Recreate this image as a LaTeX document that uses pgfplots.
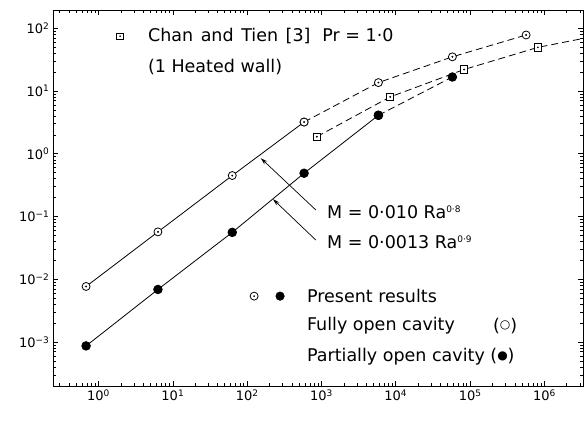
\documentclass[border=0pt]{standalone}
\usepackage{pgfplots}
\pgfplotsset{compat=1.18}
\usepackage{fontspec}
\setmainfont{DejaVu Sans}
\usetikzlibrary{arrows.meta}

\newcommand{\annot}{\fontsize{17.5}{20}\selectfont}
\newcommand{\sups}[1]{\textsuperscript{\fontsize{9}{10}\selectfont #1}}
\newcommand{\sym}[1]{\raisebox{2.5pt}{\fontsize{12}{14}\selectfont #1}}

\begin{document}
\begin{tikzpicture}
\begin{axis}[
  scale only axis,
  width=530pt, height=376pt,
  xmode=log, ymode=log,
  xmin=0.244, xmax=3.3e6,
  ymin=2e-4, ymax=195,
  xtick={1,10,100,1000,10000,100000,1000000},
  xticklabels={10\sups{0},10\sups{1},10\sups{2},10\sups{3},10\sups{4},10\sups{5},10\sups{6}},
  minor xtick={0.3,0.4,0.5,0.6,0.7,0.8,0.9,
    2,3,4,5,6,7,8,9,20,30,40,50,60,70,80,90,
    200,300,400,500,600,700,800,900,2000,3000,4000,5000,6000,7000,8000,9000,
    20000,30000,40000,50000,60000,70000,80000,90000,
    200000,300000,400000,500000,600000,700000,800000,900000,2000000,3000000},
  ytick={0.001,0.01,0.1,1,10,100},
  yticklabels={10\sups{−3},10\sups{−2},10\sups{−1},10\sups{0},10\sups{1},10\sups{2}},
  minor ytick={0.0003,0.0004,0.0005,0.0006,0.0007,0.0008,0.0009,
    0.002,0.003,0.004,0.005,0.006,0.007,0.008,0.009,
    0.02,0.03,0.04,0.05,0.06,0.07,0.08,0.09,
    0.2,0.3,0.4,0.5,0.6,0.7,0.8,0.9,
    2,3,4,5,6,7,8,9,20,30,40,50,60,70,80,90},
  tick label style={font=\fontsize{13}{15}\selectfont},
  axis line style={line width=0.9pt},
  every tick/.style={black, line width=0.7pt},
  major tick length=5pt, minor tick length=3pt,
  clip=true,
]
% fully open cavity (open circles)
\addplot[black, line width=0.8pt, mark=*, mark size=4pt, mark options={fill=white, solid}]
  coordinates {(0.68,0.0077) (6.3,0.057) (63,0.45) (583,3.2)};
\addplot[black, line width=0.8pt, dash pattern=on 7pt off 4pt, mark=*, mark size=4pt, mark options={fill=white, solid}]
  coordinates {(583,3.2) (5830,13.6) (57700,35) (566000,78)};
\addplot[only marks, black, mark=*, mark size=0.7pt]
  coordinates {(0.68,0.0077) (6.3,0.057) (63,0.45) (583,3.2) (5830,13.6) (57700,35) (566000,78)};

% partially open cavity (filled circles)
\addplot[black, line width=0.8pt, mark=*, mark size=4.3pt, mark options={fill=black, solid}]
  coordinates {(0.68,0.00087) (6.3,0.0069) (63,0.056) (583,0.49) (5830,4.1)};
\addplot[black, line width=0.8pt, dash pattern=on 7pt off 4pt, mark=*, mark size=4.3pt, mark options={fill=black, solid}]
  coordinates {(5830,4.1) (57700,16.7)};

% Chan and Tien (squares)
\addplot[black, line width=0.8pt, dash pattern=on 7pt off 4pt]
  coordinates {(865,1.87) (8400,8.05) (83000,22) (815000,49.5) (3.3e6,68.6)};
\addplot[only marks, black, mark=square*, mark size=3.7pt, mark options={fill=white, line width=0.8pt}]
  coordinates {(865,1.87) (8400,8.05) (83000,22) (815000,49.5)};
\addplot[only marks, black, mark=*, mark size=0.7pt]
  coordinates {(865,1.87) (8400,8.05) (83000,22) (815000,49.5)};

% key symbols
\addplot[only marks, black, mark=square*, mark size=3.2pt, mark options={fill=white, line width=0.8pt}]
  coordinates {(1.95,74.6)};
\addplot[only marks, black, mark=*, mark size=0.6pt] coordinates {(1.95,74.6)};
\addplot[only marks, black, mark=*, mark size=4pt, mark options={fill=white, line width=0.8pt}]
  coordinates {(124,0.0054)};
\addplot[only marks, black, mark=*, mark size=0.7pt] coordinates {(124,0.0054)};
\addplot[only marks, black, mark=*, mark size=4.3pt] coordinates {(277,0.0054)};

% annotations
\draw[-{Stealth[length=7pt,width=4pt]}, line width=0.7pt] (rel axis cs:0.496,0.468) -- (rel axis cs:0.392,0.606);
\draw[-{Stealth[length=7pt,width=4pt]}, line width=0.7pt] (rel axis cs:0.496,0.388) -- (rel axis cs:0.415,0.497);

\node[anchor=west, inner sep=0pt] at (rel axis cs:0.179,0.931) {\annot Chan\hspace{2pt} and\hspace{2pt} Tien\hspace{2pt} [3]\hspace{12pt}Pr = 1·0};
\node[anchor=west, inner sep=0pt] at (rel axis cs:0.179,0.848) {\annot (1 Heated wall)};
\node[anchor=west, inner sep=0pt] at (rel axis cs:0.517,0.463) {\annot M = 0·010 Ra\sups{0·8}};
\node[anchor=west, inner sep=0pt] at (rel axis cs:0.517,0.383) {\annot M = 0·0013 Ra\sups{0·9}};
\node[anchor=west, inner sep=0pt] at (rel axis cs:0.479,0.239) {\annot Present results};
\node[anchor=west, inner sep=0pt] at (rel axis cs:0.479,0.160) {\annot Fully open cavity};
\node[anchor=west, inner sep=0pt] at (rel axis cs:0.830,0.160) {\annot (\sym{○})};
\node[anchor=west, inner sep=0pt] at (rel axis cs:0.479,0.077) {\annot Partially open cavity (\sym{●})};

\node[rotate=90, inner sep=0pt] at (rel axis cs:-0.0566,0.686) {\annot M};
\node[inner sep=0pt] at (rel axis cs:0.696,-0.061) {\annot Ra};
\end{axis}
\pgfresetboundingbox
\path[use as bounding box] (-53pt,-41pt) rectangle (535pt,386pt);
\end{tikzpicture}
\end{document}
